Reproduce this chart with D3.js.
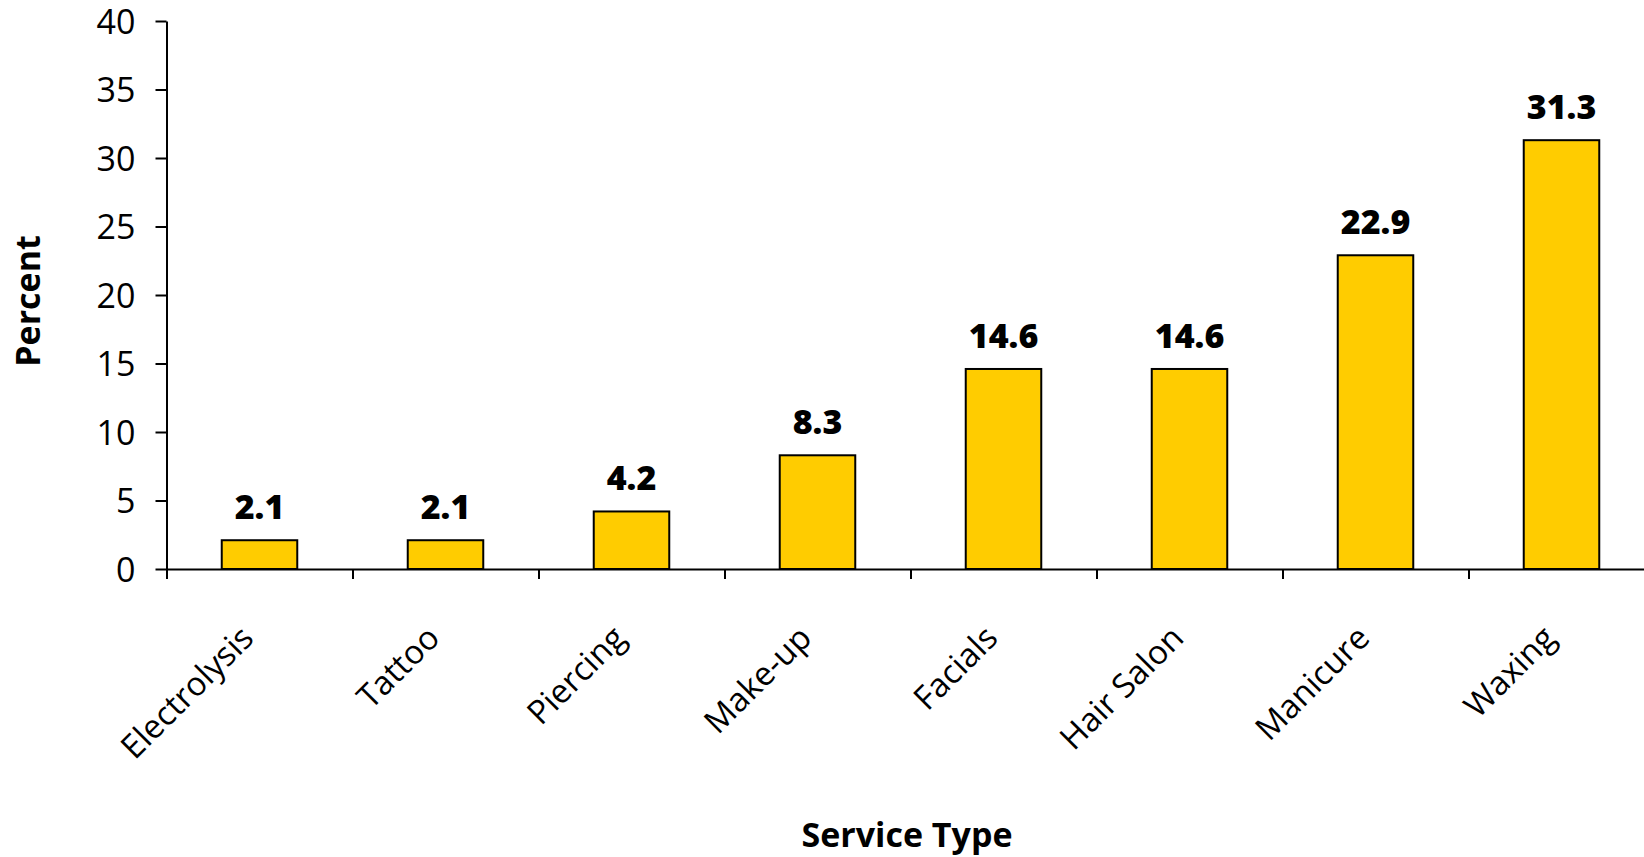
<!DOCTYPE html>
<html>
<head>
<meta charset="utf-8">
<script src="https://cdn.jsdelivr.net/npm/d3@7"></script>
<style>
  body { margin: 0; background: #fff; }
  text { font-family: "Open Sans", sans-serif; fill: #000; }
</style>
</head>
<body>
<script>
// data
var categories = ["Electrolysis", "Tattoo", "Piercing", "Make-up", "Facials", "Hair Salon", "Manicure", "Waxing"];
var values = [2.1, 2.1, 4.2, 8.3, 14.6, 14.6, 22.9, 31.3];
var yTicks = [0, 5, 10, 15, 20, 25, 30, 35, 40];

var width = 1644;
var height = 857;
var plotLeft = 166.5, plotTop = 21, plotBottom = 569;
var band = 186;

var svg = d3.select("body")
            .append("svg")
            .attr("width", width)
            .attr("height", height);

var y = d3.scaleLinear()
          .domain([0, 40])
          .range([plotBottom, plotTop]);

var x = d3.scaleBand()
          .domain(categories)
          .range([plotLeft, plotLeft + band * categories.length])
          .paddingInner(0.594)
          .paddingOuter(0.297);

// boundary ticks between categories
var xi = d3.scaleLinear()
           .domain([0, categories.length])
           .range([plotLeft, plotLeft + band * categories.length]);

// bars
svg.selectAll("rect.bar")
   .data(values)
   .enter()
   .append("rect")
   .attr("class", "bar")
   .attr("x", function(d, i) { return x(categories[i]); })
   .attr("y", function(d) { return y(d); })
   .attr("width", x.bandwidth())
   .attr("height", function(d) { return y(0) - y(d); })
   .style("fill", "#ffcc00")
   .style("stroke", "#000")
   .style("stroke-width", 2);

// value labels
svg.selectAll("text.val")
   .data(values)
   .enter()
   .append("text")
   .attr("class", "val")
   .attr("x", function(d, i) { return x(categories[i]) + x.bandwidth() / 2; })
   .attr("y", function(d) { return y(d) - 21; })
   .attr("text-anchor", "middle")
   .style("font-size", "34px")
   .style("font-weight", 800)
   .text(function(d) { return d.toFixed(1); });

// y axis
var yAxis = svg.append("g")
   .attr("transform", "translate(" + plotLeft + ",0)")
   .call(d3.axisLeft(y).tickValues(yTicks).tickSize(11).tickSizeOuter(0).tickPadding(20));
yAxis.selectAll("text").style("font-size", "34px").attr("dy", "0.36em");

// x axis
var xAxis = svg.append("g")
   .attr("transform", "translate(0," + plotBottom + ")")
   .call(d3.axisBottom(xi).tickValues(d3.range(categories.length + 1)).tickSize(10).tickSizeOuter(0).tickFormat(""));

svg.selectAll(".domain, .tick line")
   .style("stroke", "#000")
   .style("stroke-width", 2);

// rotated category labels
svg.selectAll("text.cat")
   .data(categories)
   .enter()
   .append("text")
   .attr("class", "cat")
   .attr("transform", function(d) {
      return "translate(" + (x(d) + x.bandwidth() / 2 - 4) + ",640) rotate(-45)";
   })
   .attr("text-anchor", "end")
   .style("font-size", "33px")
   .text(function(d) { return d; });

// axis titles
svg.append("text")
   .attr("transform", "translate(40,301) rotate(-90)")
   .attr("text-anchor", "middle")
   .style("font-size", "34px")
   .style("font-weight", "bold")
   .text("Percent");

svg.append("text")
   .attr("x", 907)
   .attr("y", 847)
   .attr("text-anchor", "middle")
   .style("font-size", "34px")
   .style("font-weight", "bold")
   .text("Service Type");
</script>
</body>
</html>
